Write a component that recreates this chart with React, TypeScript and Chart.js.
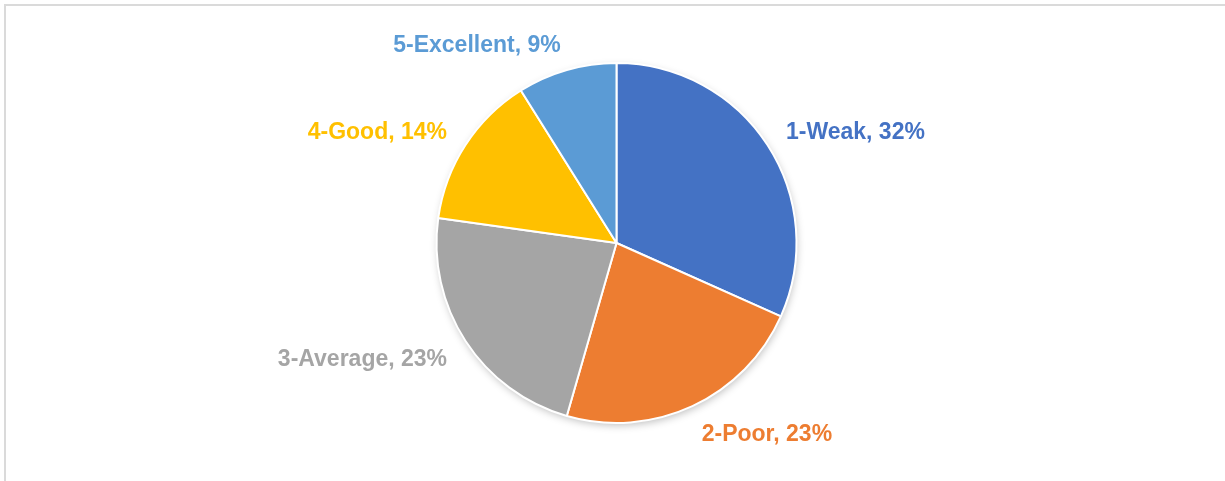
import React, { useEffect, useRef } from "react";
import { Chart, registerables } from "chart.js";

Chart.register(...registerables);

const categories = ["1-Weak", "2-Poor", "3-Average", "4-Good", "5-Excellent"];
const values = [32, 23, 23, 14, 9];
const percentLabels = ["32%", "23%", "23%", "14%", "9%"];
const colors = ["#4472C4", "#ED7D31", "#A5A5A5", "#FFC000", "#5B9BD5"];

const shadowPlugin = {
  id: "pieShadow",
  beforeDatasetsDraw(chart: any) {
    const meta = chart.getDatasetMeta(0);
    const arc = meta.data[0];
    if (!arc) return;
    const { x, y, outerRadius } = arc.getProps(["x", "y", "outerRadius"], true);
    const ctx = chart.ctx;
    ctx.save();
    ctx.shadowColor = "rgba(0,0,0,0.28)";
    ctx.shadowBlur = 9;
    ctx.shadowOffsetX = 1;
    ctx.shadowOffsetY = 3;
    ctx.fillStyle = "#ffffff";
    ctx.beginPath();
    ctx.arc(x, y, outerRadius - 1, 0, Math.PI * 2);
    ctx.fill();
    ctx.restore();
  },
};

const labelPlugin = {
  id: "outsideLabels",
  afterDatasetsDraw(chart: any) {
    const ctx = chart.ctx;
    const meta = chart.getDatasetMeta(0);
    ctx.save();
    ctx.font = "bold 23px 'Liberation Sans', Arial, sans-serif";
    ctx.textBaseline = "middle";
    meta.data.forEach((arc: any, i: number) => {
      const { x, y, startAngle, endAngle, outerRadius } = arc.getProps(
        ["x", "y", "startAngle", "endAngle", "outerRadius"],
        true
      );
      const mid = (startAngle + endAngle) / 2;
      const r = outerRadius + 22;
      const px = x + Math.cos(mid) * r;
      const py = y + Math.sin(mid) * (r + 6) + 3;
      ctx.textAlign = Math.cos(mid) >= 0 ? "left" : "right";
      ctx.fillStyle = colors[i];
      ctx.fillText(`${categories[i]}, ${percentLabels[i]}`, px, py);
    });
    ctx.restore();
  },
};

export default function App() {
  const canvasRef = useRef<HTMLCanvasElement | null>(null);

  useEffect(() => {
    if (!canvasRef.current) return;
    const chart = new Chart(canvasRef.current, {
      type: "pie",
      data: {
        labels: categories,
        datasets: [
          {
            data: values,
            backgroundColor: colors,
            borderColor: "#ffffff",
            borderWidth: 2,
          },
        ],
      },
      options: {
        animation: false,
        responsive: false,
        maintainAspectRatio: false,
        layout: { padding: { left: 208, right: 200, top: 62, bottom: 57 } },
        plugins: {
          legend: { display: false },
          tooltip: { enabled: false },
        },
      },
      plugins: [shadowPlugin, labelPlugin],
    });
    return () => chart.destroy();
  }, []);

  return (
    <div
      style={{
        position: "fixed",
        left: 0,
        top: 0,
        width: 1225,
        height: 481,
        overflow: "hidden",
        background: "#ffffff",
      }}
    >
      <div
        style={{
          position: "absolute",
          left: 4,
          top: 4,
          width: 1400,
          height: 700,
          border: "2px solid #dadada",
          boxSizing: "border-box",
        }}
      />
      <canvas
        ref={canvasRef}
        width={1225}
        height={481}
        style={{ position: "absolute", left: 0, top: 0 }}
      />
    </div>
  );
}
